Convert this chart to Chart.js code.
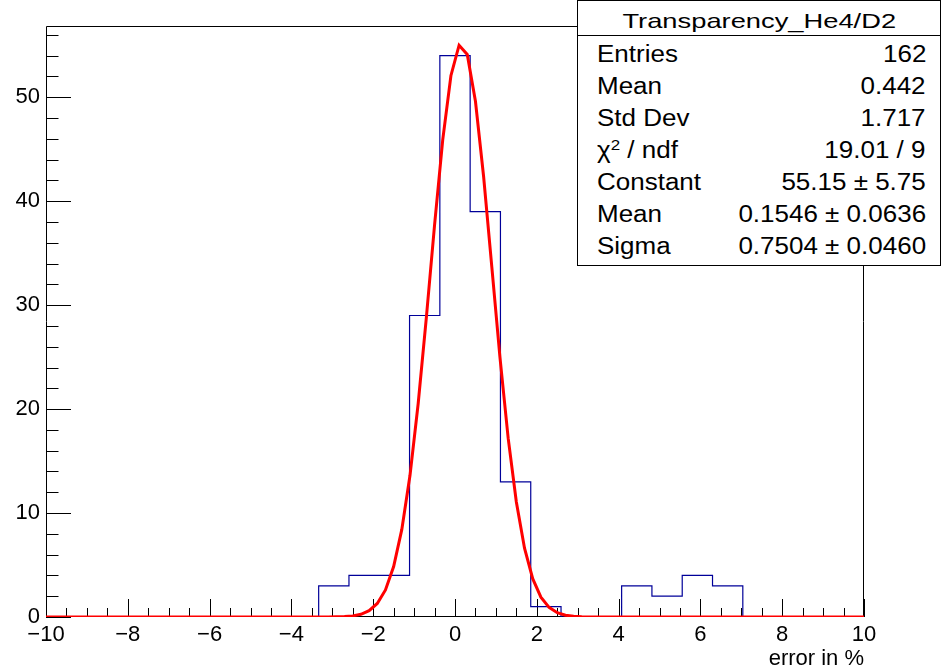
<!DOCTYPE html>
<html>
<head>
<meta charset="utf-8">
<script src="https://cdn.jsdelivr.net/npm/chart.js@4/dist/chart.umd.min.js"></script>
<style>
  html, body { margin: 0; padding: 0; background: #fff; }
  #wrap { position: relative; width: 941px; height: 672px; overflow: hidden; font-family: "Liberation Sans", Arial, sans-serif; }
  #c { display: block; }
  #stats { position: absolute; left: 577px; top: 0px; width: 362px; height: 264px; border: 1px solid #000; background: #fff; box-sizing: content-box; }
  #stats .hdr { position: absolute; left: 0; top: 0; width: 362px; height: 34px; border-bottom: 1px solid #000; }
  #stats .ttl { position: absolute; left: 0; width: 362px; text-align: center; font-size: 21px; line-height: 21px; top: 9px; white-space: nowrap; }
  #stats .ttl span { display: inline-block; transform: scaleX(1.3); transform-origin: center; }
  #stats .row { position: absolute; left: 19px; width: 329px; height: 23px; font-size: 23px; line-height: 23px; white-space: nowrap; color: #000; }
  #stats .row .l { position: absolute; left: 0; top: 0; transform: scaleX(1.13); transform-origin: left; }
  #stats .row .r { position: absolute; right: 0; top: 0; transform: scaleX(1.13); transform-origin: right; }
  sup { font-size: 15px; line-height: 0; vertical-align: 8px; }
</style>
</head>
<body>
<div id="wrap">
  <canvas id="c" width="941" height="672"></canvas>
  <div id="stats"></div>
</div>
<script>
// ---- histogram definition ----
const binLow = -10;
const binHigh = 10;
const nBins = 27;
const binCounts = [0, 0, 0, 0, 0, 0, 0, 0, 0, 3, 4, 4, 29, 54, 39, 13, 1, 0, 0, 3, 2, 4, 3, 0, 0, 0, 0];

const fitX = [-10, -3.1, -2.9, -2.7, -2.5, -2.3, -2.1, -1.9, -1.7, -1.5, -1.3, -1.1, -0.9, -0.7, -0.5, -0.3, -0.1,
              0.1, 0.3, 0.5, 0.7, 0.9, 1.1, 1.3, 1.5, 1.7, 1.9, 2.1, 2.3, 2.5, 2.7, 2.9, 3.1, 3.3, 10];
const fitY = [0, 0.005, 0.014, 0.040, 0.106, 0.262, 0.604, 1.30, 2.60, 4.85, 8.43, 13.63, 20.54, 28.83, 37.70, 45.90, 52.07,
              55.00, 54.12, 49.61, 42.35, 33.67, 24.94, 17.20, 11.06, 6.62, 3.69, 1.91, 0.93, 0.42, 0.175, 0.068, 0.025, 0.008, 0];

// ---- axes ----
const xMin = -10, xMax = 10, xMajorStep = 2, xMinorStep = 0.5;
const yMin = 0, yMax = 56.85, yMajorStep = 10, yMinorStep = 2;
const xTitle = "error in %";

// ---- stats box ----
const statsTitle = "Transparency_He4/D2";
const statsLabels = ["Entries", "Mean", "Std Dev", "χ<sup>2</sup> / ndf", "Constant", "Mean", "Sigma"];
const statsValues = ["162", "0.442", "1.717", "19.01 / 9", "55.15 ± 5.75", "0.1546 ± 0.0636", "0.7504 ± 0.0460"];

// build stats box
(function () {
  const box = document.getElementById('stats');
  let html = '<div class="hdr"></div><div class="ttl"><span>' + statsTitle + '</span></div>';
  for (let i = 0; i < statsLabels.length; i++) {
    const baseline = 62 + 32 * i;
    const top = baseline - 19.5 - 1;
    html += '<div class="row" style="top:' + top + 'px"><span class="l">' + statsLabels[i] +
            '</span><span class="r">' + statsValues[i] + '</span></div>';
  }
  box.innerHTML = html;
})();

// histogram outline points (left edge of each bin, plus closing right edge)
const binWidth = (binHigh - binLow) / nBins;
const histPoints = binCounts.map((c, i) => ({ x: binLow + i * binWidth, y: c }));
histPoints.push({ x: binHigh, y: 0 });
const fitPoints = fitX.map((x, i) => ({ x: x, y: fitY[i] }));

const frameTicks = {
  id: 'frameTicks',
  beforeDatasetsDraw(chart) {
    const { ctx, chartArea: a, scales: { x, y } } = chart;
    ctx.save();
    ctx.strokeStyle = '#000';
    ctx.lineWidth = 1;
    ctx.beginPath();
    ctx.rect(a.left + 0.5, a.top + 0.5, a.right - a.left - 1, a.bottom - a.top - 1);
    ctx.stroke();
    ctx.beginPath();
    const nx = Math.round((xMax - xMin) / xMinorStep);
    for (let i = 0; i <= nx; i++) {
      const v = xMin + i * xMinorStep;
      const px = Math.round(x.getPixelForValue(v)) + 0.5;
      const major = Math.abs(v / xMajorStep - Math.round(v / xMajorStep)) < 1e-6;
      const len = major ? 18 : 9;
      ctx.moveTo(px, a.bottom);
      ctx.lineTo(px, a.bottom - len);
    }
    for (let v = yMin; v <= yMax + 1e-9; v += yMinorStep) {
      const py = Math.round(y.getPixelForValue(v)) + 0.5;
      const major = Math.abs(v / yMajorStep - Math.round(v / yMajorStep)) < 1e-6;
      const len = major ? 25 : 12.5;
      ctx.moveTo(a.left, py);
      ctx.lineTo(a.left + len, py);
    }
    ctx.stroke();
    ctx.restore();
  }
};

new Chart(document.getElementById('c'), {
  type: 'line',
  data: {
    datasets: [
      {
        label: 'histogram',
        data: histPoints,
        stepped: 'before',
        borderColor: '#000099',
        borderWidth: 1.2,
        pointRadius: 0,
        fill: false,
        order: 2
      },
      {
        label: 'fit',
        data: fitPoints,
        borderColor: '#ff0000',
        borderWidth: 3,
        pointRadius: 0,
        tension: 0,
        fill: false,
        order: 1
      }
    ]
  },
  options: {
    responsive: false,
    devicePixelRatio: 1,
    animation: false,
    layout: { padding: { top: 26, right: 77, left: 0, bottom: 0 } },
    plugins: { legend: { display: false }, tooltip: { enabled: false } },
    scales: {
      x: {
        type: 'linear',
        min: xMin, max: xMax,
        grid: { display: false, drawTicks: false },
        border: { display: false },
        afterFit(s) { s.height = 55; },
        ticks: {
          stepSize: xMajorStep,
          autoSkip: false,
          maxRotation: 0,
          padding: 5,
          color: '#000',
          font: { family: 'Liberation Sans', size: 22 },
          callback: v => (v < 0 ? '\u2212' + Math.abs(v) : String(v))
        },
        title: {
          display: true,
          text: xTitle,
          align: 'end',
          color: '#000',
          font: { family: 'Liberation Sans', size: 22 },
          padding: { top: 0, bottom: 0 }
        }
      },
      y: {
        type: 'linear',
        min: yMin, max: yMax,
        grid: { display: false, drawTicks: false },
        border: { display: false },
        afterFit(s) { s.width = 46; },
        ticks: {
          stepSize: yMajorStep,
          includeBounds: false,
          padding: 6,
          color: '#000',
          font: { family: 'Liberation Sans', size: 22 },
          callback: v => (Math.abs(v % yMajorStep) < 1e-9 ? String(v) : '')
        }
      }
    }
  },
  plugins: [frameTicks]
});
</script>
</body>
</html>
